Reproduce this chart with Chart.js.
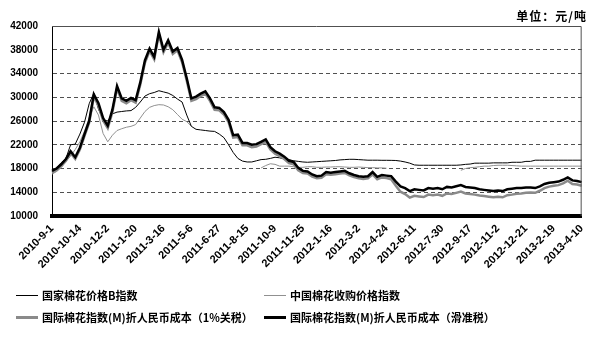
<!DOCTYPE html>
<html>
<head>
<meta charset="utf-8">
<script src="https://cdn.jsdelivr.net/npm/chart.js@4.4.0/dist/chart.umd.min.js"></script>
<style>
  body { margin: 0; background: #fff; }
  #wrap { position: relative; width: 597px; height: 351px; }
  .unit { position: absolute; right: 10px; top: 7px; font: bold 12px "Noto Sans CJK SC"; letter-spacing: 1px; }
  .leg { position: absolute; font: bold 11px "Noto Sans CJK SC"; white-space: nowrap; line-height: 14px; }
  .leg span { position: absolute; left: -26px; width: 22px; }
</style>
</head>
<body>
<div id="wrap">
  <canvas id="chart"></canvas>
  <div class="unit">单位：元/吨</div>
  <div class="leg" style="left:42px;top:288px"><span style="top:7px;border-top:1px solid #000"></span>国家棉花价格B指数</div>
  <div class="leg" style="left:290px;top:288px"><span style="top:7px;border-top:1px solid #909090"></span>中国棉花收购价格指数</div>
  <div class="leg" style="left:42px;top:310px"><span style="top:6px;border-top:3px solid #8a8a8a"></span>国际棉花指数(M)折人民币成本（1%关税）</div>
  <div class="leg" style="left:290px;top:310px"><span style="top:6px;border-top:3px solid #000"></span>国际棉花指数(M)折人民币成本（滑准税）</div>
</div>
<script>
const tickDates = ["2010-9-1", "2010-10-14", "2010-12-2", "2011-1-20", "2011-3-16",
  "2011-5-6", "2011-6-27", "2011-8-15", "2011-10-9", "2011-11-25", "2012-1-16",
  "2012-3-2", "2012-4-24", "2012-6-11", "2012-7-30", "2012-9-17", "2012-11-2",
  "2012-12-21", "2013-2-19", "2013-4-10"];
const pointsPerTick = 6;
const yTicks = [10000, 14000, 18000, 22000, 26000, 30000, 34000, 38000, 42000];

// 国家棉花价格B指数
const indexB = [
  17500, 18200, 19000, 19700, 22000, 22100, 23800, 25800, 28900, 30700,
  28000, 26200, 26000, 27200, 27500, 27600, 27700, 27750, 28300, 29200,
  30200, 30600, 30800, 31100, 30900, 30700, 30300, 29700, 29200, 27000,
  25100, 24600, 24500, 24400, 24300, 24250, 23800, 23200, 22000, 20700,
  19700, 19250, 19100, 19100, 19300, 19500, 19550, 19700, 19900, 19800,
  19600, 19500, 19300, 19200, 19100, 19050, 19100, 19150, 19200, 19250,
  19300, 19350, 19450, 19500, 19550, 19550, 19500, 19450, 19400, 19400,
  19400, 19380, 19380, 19370, 19350, 19250, 19100, 18900, 18600, 18550,
  18550, 18550, 18550, 18550, 18550, 18550, 18550, 18550, 18600, 18700,
  18750, 18900, 18900, 18900, 18900, 18950, 18950, 18950, 18950, 19050,
  19050, 19050, 19200, 19200, 19400, 19400, 19400, 19400, 19400, 19400,
  19400, 19400, 19400, 19400, 19400
];

// 中国棉花收购价格指数
const purchaseIndex = [
  17050, 17500, 18200, 19200, 20100, 21200, 22500, 24300, 26500, 28400,
  27000, 23900, 22500, 23600, 24400, 24700, 24950, 25100, 25400, 26500,
  27600, 28300, 28600, 28750, 28700, 28400, 27900, 27100, 26300, 25900,
  25100, null, null, null, null, null, null, null, null, null,
  null, null, null, null, null, 18100, 18500, 18800, 18700, 18400,
  18400, 18400, 18300, 18200, 18200, 18300, 18300, 18200, 18200, 18250,
  18250, 18300, 18300, 18250, 18200, 18200, 18250, 18200, 18150, 18150,
  18100, 18100, 18050, null, null, null, null, null, null, null,
  null, null, null, null, null, null, null, null, 17700, 18000,
  18150, 18200, 18300, 18400, 18400, 18500, 18550, 18550, 18550, 18500,
  18450, 18400, 18400, 18400, 18400, 18400, 18400, 18400, 18400, 18400,
  18400, 18400, 18400, 18400, 18400
];

// 国际棉花指数(M)折人民币成本（1%关税）
const costTariff1 = [
  17300, 17700, 18400, 19300, 20600, 19600, 21200, 23500, 25700, 30100,
  28600, 26100, 24800, 27500, 31500, 29400, 29000, 29500, 29100, 32100,
  35800, 37800, 36400, 40600, 37600, 39200, 37300, 37900, 35900, 32800,
  29400, 29700, 30200, 30600, 29400, 27900, 27800, 27100, 25800, 23200,
  23300, 21900, 21900, 21600, 21700, 22100, 22500, 21200, 20500, 20100,
  19600, 18900, 18700, 17700, 17250, 17150, 16650, 16350, 16450, 17050,
  16950, 17050, 17150, 17250, 16850, 16550, 16350, 16250, 16350, 17000,
  16200, 16500, 16400, 16200, 15100, 14100, 13700, 13100, 13400, 13300,
  13200, 13600, 13500, 13600, 13400, 13800, 13700, 13900, 14100, 13800,
  13700, 13600, 13450, 13350, 13250, 13150, 13250, 13150, 13500, 13600,
  13750, 13800, 13900, 13950, 13900, 14250, 14700, 14950, 15100, 15200,
  15500, 15950, 15400, 15300, 15100
];

// 国际棉花指数(M)折人民币成本（滑准税）
const costSliding = [
  17600, 18000, 18700, 19600, 20900, 19900, 21500, 23800, 26000, 30500,
  29000, 26500, 25200, 27900, 31900, 29800, 29400, 29900, 29500, 32500,
  36200, 38200, 36800, 41000, 38000, 39600, 37700, 38300, 36300, 33200,
  29800, 30100, 30600, 31000, 29800, 28300, 28200, 27500, 26200, 23600,
  23700, 22300, 22300, 22000, 22100, 22500, 22900, 21600, 20900, 20500,
  20000, 19300, 19100, 18100, 17600, 17500, 17000, 16700, 16800, 17400,
  17300, 17400, 17500, 17600, 17200, 16900, 16700, 16600, 16700, 17400,
  16600, 16900, 16800, 16700, 15800, 15000, 14700, 14200, 14500, 14400,
  14300, 14700, 14600, 14700, 14500, 14900, 14800, 15000, 15200, 14900,
  14800, 14700, 14500, 14400, 14300, 14200, 14300, 14200, 14500, 14600,
  14700, 14700, 14800, 14800, 14700, 15000, 15400, 15600, 15700, 15800,
  16100, 16500, 16000, 15900, 15700
];

const labels = costSliding.map((v, i) =>
  i % pointsPerTick === 0 ? tickDates[i / pointsPerTick] : "");

// grey top/right frame of the plot area
const framePlugin = {
  id: "frame",
  afterDraw(chart) {
    const { ctx, chartArea: a } = chart;
    ctx.save();
    ctx.strokeStyle = "#505050";
    ctx.lineWidth = 1;
    ctx.beginPath();
    ctx.moveTo(a.left, a.top + 0.5);
    ctx.lineTo(a.right - 0.5, a.top + 0.5);
    ctx.lineTo(a.right - 0.5, a.bottom);
    ctx.stroke();
    ctx.restore();
  }
};

new Chart(document.getElementById("chart"), {
  type: "line",
  data: {
    labels: labels,
    datasets: [
      { label: "国家棉花价格B指数", data: indexB, borderColor: "#000", borderWidth: 1, order: 2 },
      { label: "中国棉花收购价格指数", data: purchaseIndex, borderColor: "#909090", borderWidth: 1, order: 3 },
      { label: "国际棉花指数(M)折人民币成本（1%关税）", data: costTariff1, borderColor: "#8a8a8a", borderWidth: 2.5, order: 1 },
      { label: "国际棉花指数(M)折人民币成本（滑准税）", data: costSliding, borderColor: "#000", borderWidth: 2.5, order: 0 }
    ]
  },
  options: {
    responsive: true,
    maintainAspectRatio: false,
    animation: false,
    layout: { padding: { left: 0, top: 26, right: 8, bottom: 0 } },
    elements: { point: { radius: 0 }, line: { tension: 0, fill: false } },
    spanGaps: false,
    plugins: { legend: { display: false }, tooltip: { enabled: false } },
    scales: {
      x: {
        offset: false,
        grid: { display: false, drawTicks: false },
        border: { color: "#000", width: 4 },
        ticks: {
          autoSkip: false,
          minRotation: 45,
          maxRotation: 45,
          padding: 6,
          color: "#000",
          font: { family: "Liberation Sans", size: 11, weight: "bold" },
          callback: (v, i) => labels[i]
        },
        afterFit: (s) => { s.height = 135; }
      },
      y: {
        min: yTicks[0],
        max: yTicks[yTicks.length - 1],
        grid: {
          drawTicks: false,
          lineWidth: 1,
          color: (c) => (c.tick && (c.tick.value === yTicks[0] || c.tick.value === yTicks[yTicks.length - 1]))
            ? "rgba(0,0,0,0)" : "#505050"
        },
        border: { color: "#000", width: 1, dash: [4, 3] },
        ticks: {
          stepSize: 4000,
          padding: 14,
          color: "#000",
          font: { family: "Liberation Sans", size: 10, weight: "bold" },
          callback: (v) => String(v)
        },
        afterFit: (s) => { s.width = 52; }
      }
    }
  },
  plugins: [framePlugin]
});
</script>
</body>
</html>
